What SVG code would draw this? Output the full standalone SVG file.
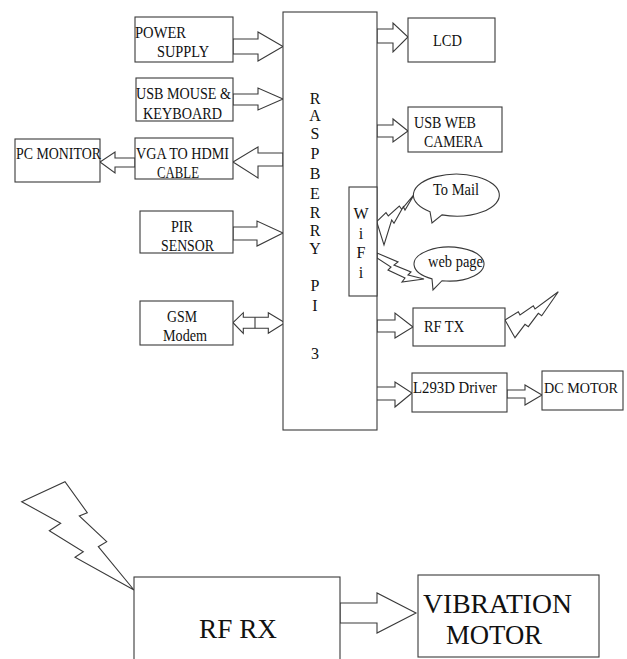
<svg xmlns="http://www.w3.org/2000/svg" width="627" height="659" viewBox="0 0 627 659">
<style>
.b{fill:#fff;stroke:#3a3a3a;stroke-width:1.1}
.c{fill:#fff;stroke:#3a3a3a;stroke-width:1.1;stroke-linejoin:miter}
text{font-family:"Liberation Serif","DejaVu Serif","Noto Serif",serif;fill:#111}
.t{font-size:17px}
.r{font-size:16px}
.L{font-size:27px}
</style>
<rect width="627" height="659" fill="#fff"/>
<g id="connectors">
<polygon class="c" points="233,39 258,39 258,32 283,46.5 258,61 258,54 233,54"/>
<polygon class="c" points="233,94 258,94 258,88 283,99 258,110 258,105 233,105"/>
<polygon class="c" points="283,153 258,153 258,147 233,162 258,178 258,166 283,166"/>
<polygon class="c" points="135,158 115,158 115,152 100,162 115,173 115,167 135,167"/>
<polygon class="c" points="233,227 257,227 257,221 283,233 257,246 257,240 233,240"/>
<polygon class="c" points="233,322.7 243.3,312.7 243.3,317.3 268.3,317.3 268.3,312.7 285,322.7 268.3,333.3 268.3,328.3 243.3,328.3 243.3,333.3"/>
<line x1="255" y1="317.3" x2="255" y2="328.3" stroke="#3a3a3a" stroke-width="1.1"/>
<polygon class="c" points="377,29 393,29 393,23 408,37 393,52 393,43 377,43"/>
<polygon class="c" points="377,125 393,125 393,119 408,131 393,142 393,137 377,137"/>
<polygon class="c" points="377,320 395,320 395,313 413,327 395,338 395,332 377,332"/>
<polygon class="c" points="374,387 395,387 395,382 412,393 395,407 395,400 374,400"/>
<polygon class="c" points="507,390 525,390 525,385 542,395 525,405 525,398 507,398"/>
<polygon class="c" points="340,603 377,603 377,593 416,613 377,633 377,623 340,623"/>
<polygon class="c" points="376.7,221.7 386,212.7 388.3,216 399.3,206 401.7,209.3 415,193.3 405,210 403.3,206.7 394,223.3 391.7,220 384,245"/>
<polygon class="c" points="377,253 398,262 394,265 411,272 408,275 424,279 402,282 405,278 388,270 391,267 377,258"/>
<polygon class="c" points="505,320 518.3,311.7 520,315 533.3,305.7 535,309 558.3,291.7 541.7,315.7 538.3,313.3 528.3,326.7 525,324.3 515,337.7"/>
<polygon class="c" points="21.7,501.7 65,481.7 87.3,512.7 79.3,516 106.7,541.7 98.3,546.7 134,590 75,557.3 83.3,551.7 49.3,530.7 60.7,523.3"/>
</g>
<g id="power-supply"><rect class="b" x="135" y="17" width="98" height="45"/><text class="t" x="135" y="38" textLength="51" lengthAdjust="spacingAndGlyphs">POWER</text><text class="t" x="157" y="57" textLength="52" lengthAdjust="spacingAndGlyphs">SUPPLY</text></g>
<g id="usb-mouse"><rect class="b" x="136" y="78" width="97" height="43"/><text class="t" x="136" y="99" textLength="95" lengthAdjust="spacingAndGlyphs">USB MOUSE &amp;</text><text class="t" x="143" y="119" textLength="79" lengthAdjust="spacingAndGlyphs">KEYBOARD</text></g>
<g id="vga-hdmi"><rect class="b" x="135" y="138" width="98" height="41"/><text class="t" x="136" y="159" textLength="93" lengthAdjust="spacingAndGlyphs">VGA TO HDMI</text><text class="t" x="157" y="178" textLength="42" lengthAdjust="spacingAndGlyphs">CABLE</text></g>
<g id="pc-monitor"><rect class="b" x="15" y="139" width="85" height="43"/><text class="t" x="16" y="159" textLength="85" lengthAdjust="spacingAndGlyphs">PC MONITOR</text></g>
<g id="pir"><rect class="b" x="140" y="211" width="93" height="42"/><text class="t" x="171" y="232" textLength="22" lengthAdjust="spacingAndGlyphs">PIR</text><text class="t" x="161" y="251" textLength="53" lengthAdjust="spacingAndGlyphs">SENSOR</text></g>
<g id="gsm"><rect class="b" x="140" y="301" width="93" height="44"/><text class="t" x="167" y="322" textLength="30" lengthAdjust="spacingAndGlyphs">GSM</text><text class="t" x="163" y="341" textLength="44" lengthAdjust="spacingAndGlyphs">Modem</text></g>
<g id="raspberry-pi"><rect class="b" x="283" y="12" width="94" height="418"/>
<text class="r" x="315" y="104" text-anchor="middle">R</text><text class="r" x="315" y="121" text-anchor="middle">A</text><text class="r" x="315" y="139" text-anchor="middle">S</text><text class="r" x="315" y="159" text-anchor="middle">P</text><text class="r" x="315" y="179" text-anchor="middle">B</text><text class="r" x="315" y="199" text-anchor="middle">E</text><text class="r" x="315" y="218" text-anchor="middle">R</text><text class="r" x="315" y="236" text-anchor="middle">R</text><text class="r" x="315" y="254" text-anchor="middle">Y</text><text class="r" x="315" y="291" text-anchor="middle">P</text><text class="r" x="315" y="311" text-anchor="middle">I</text><text class="r" x="315" y="359" text-anchor="middle">3</text></g>
<g id="wifi"><rect class="b" x="349" y="187" width="28" height="109"/>
<text class="r" x="361" y="219" text-anchor="middle">W</text><text class="r" x="361" y="239" text-anchor="middle">i</text><text class="r" x="361" y="258" text-anchor="middle">F</text><text class="r" x="361" y="278" text-anchor="middle">i</text></g>
<g id="lcd"><rect class="b" x="408" y="18" width="87" height="44"/><text class="t" x="433" y="46" textLength="29" lengthAdjust="spacingAndGlyphs">LCD</text></g>
<g id="camera"><rect class="b" x="408" y="107" width="94" height="45"/><text class="t" x="414" y="128" textLength="62" lengthAdjust="spacingAndGlyphs">USB WEB</text><text class="t" x="424" y="147" textLength="59" lengthAdjust="spacingAndGlyphs">CAMERA</text></g>
<g id="to-mail"><path class="b" d="M430,211.7 L432,223 L442,214.9 A43 21 0 1 0 430,211.7 Z"/><text class="t" x="433" y="195" textLength="46" lengthAdjust="spacingAndGlyphs">To Mail</text></g>
<g id="web-page"><path class="b" d="M432,278.9 L433,290 L442,280.7 A35 17 0 1 0 432,278.9 Z"/><text class="t" x="428" y="267" textLength="55" lengthAdjust="spacingAndGlyphs">web page</text></g>
<g id="rf-tx"><rect class="b" x="413" y="308" width="92" height="38"/><text class="t" x="424" y="332" textLength="40" lengthAdjust="spacingAndGlyphs">RF TX</text></g>
<g id="l293d"><rect class="b" x="412" y="373" width="95" height="39"/><text class="t" x="413" y="393" textLength="84" lengthAdjust="spacingAndGlyphs">L293D Driver</text></g>
<g id="dc-motor"><rect class="b" x="542" y="371" width="81" height="39"/><text x="544" y="393" font-size="15" textLength="74" lengthAdjust="spacingAndGlyphs">DC MOTOR</text></g>
<g id="rf-rx"><rect class="b" x="134" y="577" width="206" height="95"/><text class="L" x="199" y="638" textLength="78" lengthAdjust="spacingAndGlyphs">RF RX</text></g>
<g id="vibration-motor"><rect class="b" x="418" y="575" width="181" height="82"/><text class="L" x="423" y="613" textLength="149" lengthAdjust="spacingAndGlyphs">VIBRATION</text><text class="L" x="446" y="644" textLength="96" lengthAdjust="spacingAndGlyphs">MOTOR</text></g>
</svg>
